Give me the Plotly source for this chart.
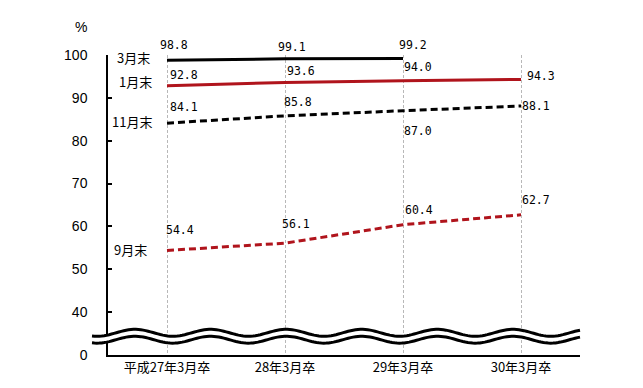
import math
import plotly.graph_objects as go

categories = ["平成27年3月卒", "28年3月卒", "29年3月卒", "30年3月卒"]
series_names = ["3月末", "1月末", "11月末", "9月末"]
mar_end = [98.8, 99.1, 99.2]
jan_end = [92.8, 93.6, 94.0, 94.3]
nov_end = [84.1, 85.8, 87.0, 88.1]
sep_end = [54.4, 56.1, 60.4, 62.7]
ytick_vals = [30, 40, 50, 60, 70, 80, 90, 100]
ytick_text = ["0", "40", "50", "60", "70", "80", "90", "100"]

RED = "#B0141C"
series = [
    (series_names[0], mar_end, dict(color="black", width=3, dash="solid")),
    (series_names[1], jan_end, dict(color=RED, width=3, dash="solid")),
    (series_names[2], nov_end, dict(color="black", width=3, dash="7px,4px")),
    (series_names[3], sep_end, dict(color=RED, width=3, dash="7px,4px")),
]

# label offsets (px) for data labels
label_offsets = [
    [(7, 15), (7, 12), (10, 13)],
    [(17, 11), (16, 11), (15, 14), (20, 3)],
    [(17, 16), (13, 14), (15, -20), (15, 0)],
    [(13, 20), (11, 19), (16, 15), (15, 15)],
]
name_offsets = [(7, 3), (9, 4), (2, 2), (4, 1)]

fig = go.Figure()
annotations = []
for (name, vals, line), offs, noff in zip(series, label_offsets, name_offsets):
    xs = list(range(len(vals)))
    fig.add_trace(go.Scatter(x=xs, y=vals, mode="lines", line=line, name=name,
                             showlegend=False, hoverinfo="skip"))
    for xi, v, (dx, dy) in zip(xs, vals, offs):
        annotations.append(dict(x=xi, y=v, xref="x", yref="y", text=f"{v:.1f}",
                                showarrow=False, xshift=dx, yshift=dy,
                                xanchor="center", yanchor="middle",
                                font=dict(family="DejaVu Sans Mono", size=11.5, color="black")))
    annotations.append(dict(x=-0.5, y=vals[0], xref="x", yref="y", text=name,
                            showarrow=False, xshift=noff[0], yshift=noff[1],
                            xanchor="left", yanchor="middle",
                            font=dict(family="Noto Sans CJK JP", size=13, color="black")))

annotations.append(dict(x=-0.057, y=1.095, xref="paper", yref="paper", text="%",
                        showarrow=False, xanchor="center", yanchor="middle",
                        font=dict(family="Liberation Sans", size=14, color="black")))

# axis-break wavy decoration (pixel geometry converted to paper coords)
PL, PR, PT, PB = 108, 580, 55, 359
W, H = PR - PL, PB - PT
def wave(offset_px, x0=92, x1=580, period=75.6, phase=135, amp=3.5, center=336.5):
    pts = []
    n = 200
    for i in range(n + 1):
        px = x0 + (x1 - x0) * i / n
        py = center + offset_px - amp * math.cos(2 * math.pi * (px - phase) / period)
        pts.append(((px - PL) / W, (PB - py) / H))
    return pts

upper = wave(0)
lower = wave(7)
def path(pts, close=False):
    s = "M " + " L ".join(f"{x:.5f},{y:.5f}" for x, y in pts)
    return s + (" Z" if close else "")

shapes = [
    dict(type="path", xref="paper", yref="paper", path=path(upper + lower[::-1], True),
         fillcolor="white", line=dict(width=0), layer="above"),
    dict(type="path", xref="paper", yref="paper", path=path(upper),
         line=dict(color="black", width=3), layer="above"),
    dict(type="path", xref="paper", yref="paper", path=path(lower),
         line=dict(color="black", width=3), layer="above"),
]

fig.update_layout(
    width=643, height=388,
    margin=dict(l=PL, r=643 - PR, t=PT, b=388 - PB),
    paper_bgcolor="white", plot_bgcolor="white",
    annotations=annotations, shapes=shapes,
    xaxis=dict(range=[-0.5, 3.5], tickvals=list(range(4)), ticktext=categories,
               showgrid=True, gridcolor="#b8b8b8", griddash="3px,2px", gridwidth=1,
               showline=True, linecolor="black", linewidth=1.5, ticks="",
               zeroline=False, fixedrange=True,
               tickfont=dict(family="Noto Sans CJK JP", size=13, color="black")),
    yaxis=dict(range=[30, 100], tickvals=ytick_vals, ticktext=ytick_text,
               showgrid=False, showline=True, linecolor="black", linewidth=1.5,
               ticks="inside", ticklen=4, tickcolor="black", tickwidth=1.5,
               ticklabelstandoff=16, zeroline=False, fixedrange=True,
               tickfont=dict(family="Liberation Sans", size=14, color="black")),
)

fig.write_html("out.html", config={"displayModeBar": False},
               post_script="document.body.style.margin='0';")
